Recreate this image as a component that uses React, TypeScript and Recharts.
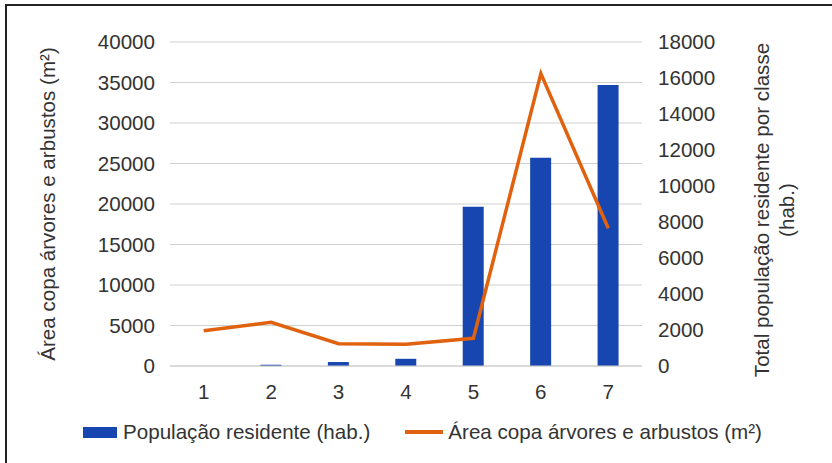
import { Bar, CartesianGrid, ComposedChart, Legend, Line, XAxis, YAxis } from "recharts";

const classes = ["1", "2", "3", "4", "5", "6", "7"];
const populacaoResidente = [0, 70, 220, 400, 8850, 11570, 15610];
const areaCopa = [4360, 5390, 2750, 2680, 3420, 36100, 17000];
const leftTicks = [0, 5000, 10000, 15000, 20000, 25000, 30000, 35000, 40000];
const rightTicks = [0, 2000, 4000, 6000, 8000, 10000, 12000, 14000, 16000, 18000];

const data = classes.map((classe, i) => ({
  classe,
  populacao: populacaoResidente[i],
  area: areaCopa[i],
}));

const BLUE = "#1746b0";
const ORANGE = "#e0620f";
const TEXT = "#333333";
const FS = 20.6;
const tickStyle = { fontSize: FS, fill: TEXT };

function LeftLabel(props: any) {
  const vb = props.viewBox;
  const x = vb.x + 40;
  const y = vb.y + vb.height / 2;
  return (
    <text
      x={x}
      y={y}
      transform={`rotate(-90, ${x}, ${y})`}
      textAnchor="middle"
      dominantBaseline="central"
      fontSize={FS}
      fill={TEXT}
    >
      Área copa árvores e arbustos (m²)
    </text>
  );
}

function RightLabel(props: any) {
  const vb = props.viewBox;
  const y = vb.y + vb.height / 2 + 6;
  const x1 = vb.x + 119;
  const x2 = vb.x + 144;
  return (
    <g>
      <text
        x={x1}
        y={y}
        transform={`rotate(-90, ${x1}, ${y})`}
        textAnchor="middle"
        dominantBaseline="central"
        fontSize={FS}
        fill={TEXT}
      >
        Total população residente por classe
      </text>
      <text
        x={x2}
        y={y}
        transform={`rotate(-90, ${x2}, ${y})`}
        textAnchor="middle"
        dominantBaseline="central"
        fontSize={FS}
        fill={TEXT}
      >
        (hab.)
      </text>
    </g>
  );
}

function LegendContent(props: any) {
  const items = props.payload || [];
  return (
    <div style={{ display: "flex", alignItems: "center", paddingLeft: 76, height: 26, fontSize: FS, color: TEXT }}>
      {items.map((entry: any, i: number) => (
        <div key={i} style={{ display: "flex", alignItems: "center", marginRight: 35 }}>
          {entry.type === "line" ? (
            <span style={{ display: "inline-block", width: 38, height: 4, background: entry.color, marginRight: 5 }} />
          ) : (
            <span style={{ display: "inline-block", width: 34, height: 11, background: entry.color, marginRight: 6 }} />
          )}
          <span style={{ whiteSpace: "nowrap" }}>{entry.value}</span>
        </div>
      ))}
    </div>
  );
}

export default function App() {
  return (
    <div
      style={{
        position: "absolute",
        left: 5,
        top: 4,
        width: 825,
        height: 459,
        borderTop: "2px solid #222",
        borderLeft: "2px solid #222",
        background: "#fff",
        fontFamily: "Arial, 'Liberation Sans', sans-serif",
      }}
    >
      <ComposedChart width={825} height={457} data={data} margin={{ top: 36, right: 0, bottom: 41, left: 0 }}>
        <CartesianGrid vertical={false} stroke="#d0d0d0" yAxisId="left" />
        <XAxis
          dataKey="classe"
          height={30}
          tickLine={false}
          axisLine={{ stroke: "#cccccc" }}
          tickMargin={12}
          tick={tickStyle}
        />
        <YAxis
          yAxisId="left"
          orientation="left"
          width={163}
          domain={[0, 40000]}
          ticks={leftTicks}
          interval={0}
          tickLine={false}
          axisLine={false}
          tickMargin={9}
          tick={tickStyle}
          label={(p: any) => <LeftLabel {...p} />}
        />
        <YAxis
          yAxisId="right"
          orientation="right"
          width={190}
          domain={[0, 18000]}
          ticks={rightTicks}
          interval={0}
          tickLine={false}
          axisLine={false}
          tickMargin={10}
          tick={{ ...tickStyle, textAnchor: "start" }}
          label={(p: any) => <RightLabel {...p} />}
        />
        <Legend
          verticalAlign="bottom"
          content={(p: any) => <LegendContent {...p} />}
          wrapperStyle={{ top: 413, left: 0, width: 825, height: 26 }}
        />
        <Bar
          yAxisId="right"
          dataKey="populacao"
          name="População residente (hab.)"
          fill={BLUE}
          barSize={21}
          legendType="rect"
          isAnimationActive={false}
        />
        <Line
          yAxisId="left"
          dataKey="area"
          name="Área copa árvores e arbustos (m²)"
          stroke={ORANGE}
          strokeWidth={3.5}
          dot={false}
          activeDot={false}
          type="linear"
          legendType="line"
          isAnimationActive={false}
        />
      </ComposedChart>
    </div>
  );
}
